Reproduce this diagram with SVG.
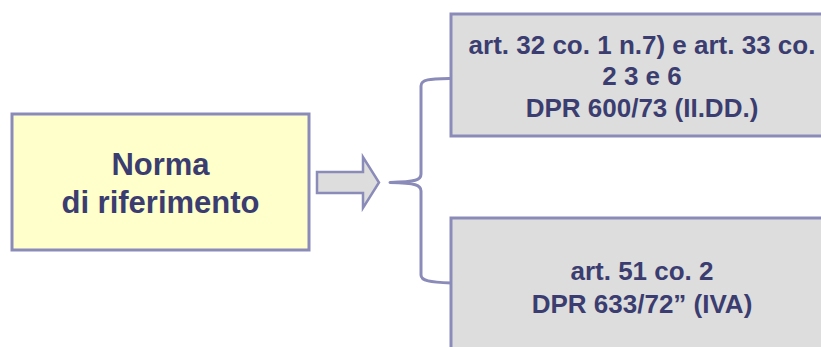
<svg xmlns="http://www.w3.org/2000/svg" width="821" height="347" viewBox="0 0 821 347">
  <style>
    .box { stroke: #8b8bb9; stroke-width: 3; }
    .src { fill: #ffffcc; }
    .ref { fill: #dddddd; }
    .lbl { font-family: "Liberation Sans", Arial, sans-serif; font-weight: bold; fill: #3b3d70; text-anchor: middle; }
    .big { font-size: 31px; }
    .small { font-size: 26px; }
    .conn { fill: none; stroke: #8b8bb9; stroke-width: 3; stroke-linejoin: round; }
  </style>

  <!-- source node -->
  <g id="norma">
    <rect class="box src" x="12" y="114" width="297" height="136"/>
    <text class="lbl big" x="160.5" y="175">Norma</text>
    <text class="lbl big" x="160.5" y="213">di riferimento</text>
  </g>

  <!-- connectors: block arrow and brace -->
  <g id="connectors">
    <polygon points="317,172 363,172 363,157 379,182.5 363,208 363,193 317,193" fill="#dddddd" stroke="#8b8bb9" stroke-width="2.5" stroke-linejoin="miter"/>
    <path class="conn" d="M451,78.5 C430,79 421,79 421,86 L421,174 C421,180 416,182 390,182.5 C416,183 421,185 421,191 L421,275 C421,281 430,282 451,283"/>
  </g>

  <!-- target nodes -->
  <g id="ii-dd">
    <rect class="box ref" x="451" y="14" width="385" height="122"/>
    <text class="lbl small" x="642" y="54">art. 32 co. 1 n.7) e art. 33 co.</text>
    <text class="lbl small" x="642" y="85">2 3 e 6</text>
    <text class="lbl small" x="642" y="117">DPR 600/73 (II.DD.)</text>
  </g>

  <g id="iva">
    <rect class="box ref" x="451" y="218" width="385" height="140"/>
    <text class="lbl small" x="642" y="280">art. 51 co. 2</text>
    <text class="lbl small" x="642" y="313">DPR 633/72” (IVA)</text>
  </g>
</svg>
